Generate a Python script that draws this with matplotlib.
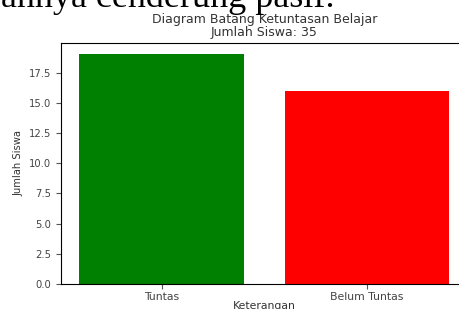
import matplotlib
matplotlib.use('Agg')
import matplotlib.pyplot as plt

keterangan = ['Tuntas', 'Belum Tuntas']  # kategori
jumlah = [19, 16]  # jumlah siswa per kategori
warna = ['green', 'red']
total_siswa = 35

fig = plt.figure(figsize=(4.6, 3.09), dpi=100)

# potongan teks dokumen di atas grafik (terpotong di tepi atas)
fig.text(0.728, 0.977, 'Hannya cenderung pasif.', family='Liberation Serif',
         fontsize=26, ha='right', va='baseline', color='black')

ax = fig.add_axes([0.1326, 0.0809, 0.884, 0.780])
ax.bar(keterangan, jumlah, color=warna)
ax.set_title('Diagram Batang Ketuntasan Belajar\nJumlah Siswa: %d' % total_siswa,
             fontsize=9, color='#333333', linespacing=1.05, pad=5)
ax.set_xlabel('Keterangan', fontsize=7.8, color='#333333', labelpad=-1)
ax.set_ylabel('Jumlah Siswa', fontsize=7.2, color='#333333')
ax.tick_params(axis='x', labelsize=7.8, pad=2.5)
ax.tick_params(axis='y', labelsize=7.2)
ax.tick_params(labelcolor='#444444', color='#555555')

fig.savefig('out.png', dpi=100)
plt.close(fig)
